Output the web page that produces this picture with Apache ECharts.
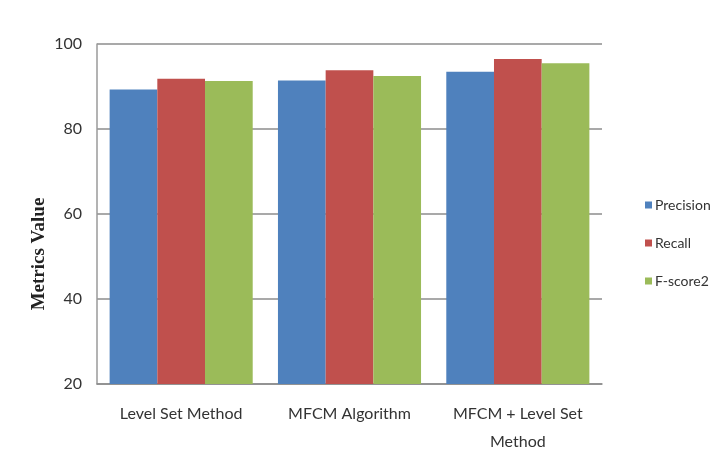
<!DOCTYPE html>
<html><head><meta charset="utf-8">
<script src="https://cdn.jsdelivr.net/npm/echarts@6/dist/echarts.min.js"></script>
<style>html,body{margin:0;padding:0;background:#fff}#c{width:713px;height:465px}</style>
</head><body><div id="c"></div>
<script>
const categories = ['Level Set Method', 'MFCM Algorithm', 'MFCM + Level Set\nMethod'];
const seriesNames = ['Precision', 'Recall', 'F-score2'];
const precision = [89.3, 91.4, 93.5];
const recall = [91.8, 93.8, 96.5];
const fscore2 = [91.3, 92.5, 95.5];
const yTicks = [20, 40, 60, 80, 100];
const colors = ['#4F81BD', '#C0504D', '#9BBB59'];

const chart = echarts.init(document.getElementById('c'));
const font = 'Lato, "Open Sans", sans-serif';
chart.setOption({
  animation: false,
  backgroundColor: '#fff',
  color: colors,
  grid: { left: 97, right: 111, top: 44, bottom: 81 },
  legend: {
    orient: 'vertical', left: 640, top: 193, itemWidth: 7, itemHeight: 7, itemGap: 24,
    icon: 'rect', width: 73,
    textStyle: { fontFamily: font, fontSize: 14, color: '#333', padding: [0, 0, 0, -2], overflow: 'none' },
    data: seriesNames
  },
  graphic: [{
    type: 'text', x: 39, y: 254, rotation: Math.PI / 2,
    style: { text: 'Metrics Value', font: 'bold 19px "Liberation Serif", serif', fill: '#222', align: 'center', verticalAlign: 'middle' }
  }],
  xAxis: {
    type: 'category', data: categories,
    axisLine: { lineStyle: { color: '#8c8c8c', width: 1.5 } },
    axisTick: { show: false },
    axisLabel: { interval: 0, fontFamily: font, fontSize: 16, color: '#333', margin: 16, lineHeight: 28 }
  },
  yAxis: {
    type: 'value', min: yTicks[0], max: yTicks[yTicks.length - 1], interval: 20,
    axisLine: { show: true, lineStyle: { color: '#9a9a9a', width: 1.5 } },
    axisTick: { show: false },
    splitLine: { lineStyle: { color: '#8c8c8c', width: 1.5 } },
    axisLabel: { fontFamily: font, fontSize: 16, color: '#333', margin: 15 }
  },
  series: [
    { name: seriesNames[0], type: 'bar', data: precision, barGap: '0%', barCategoryGap: '15%' },
    { name: seriesNames[1], type: 'bar', data: recall, barGap: '0%', barCategoryGap: '15%' },
    { name: seriesNames[2], type: 'bar', data: fscore2, barGap: '0%', barCategoryGap: '15%' }
  ]
});
</script></body></html>
